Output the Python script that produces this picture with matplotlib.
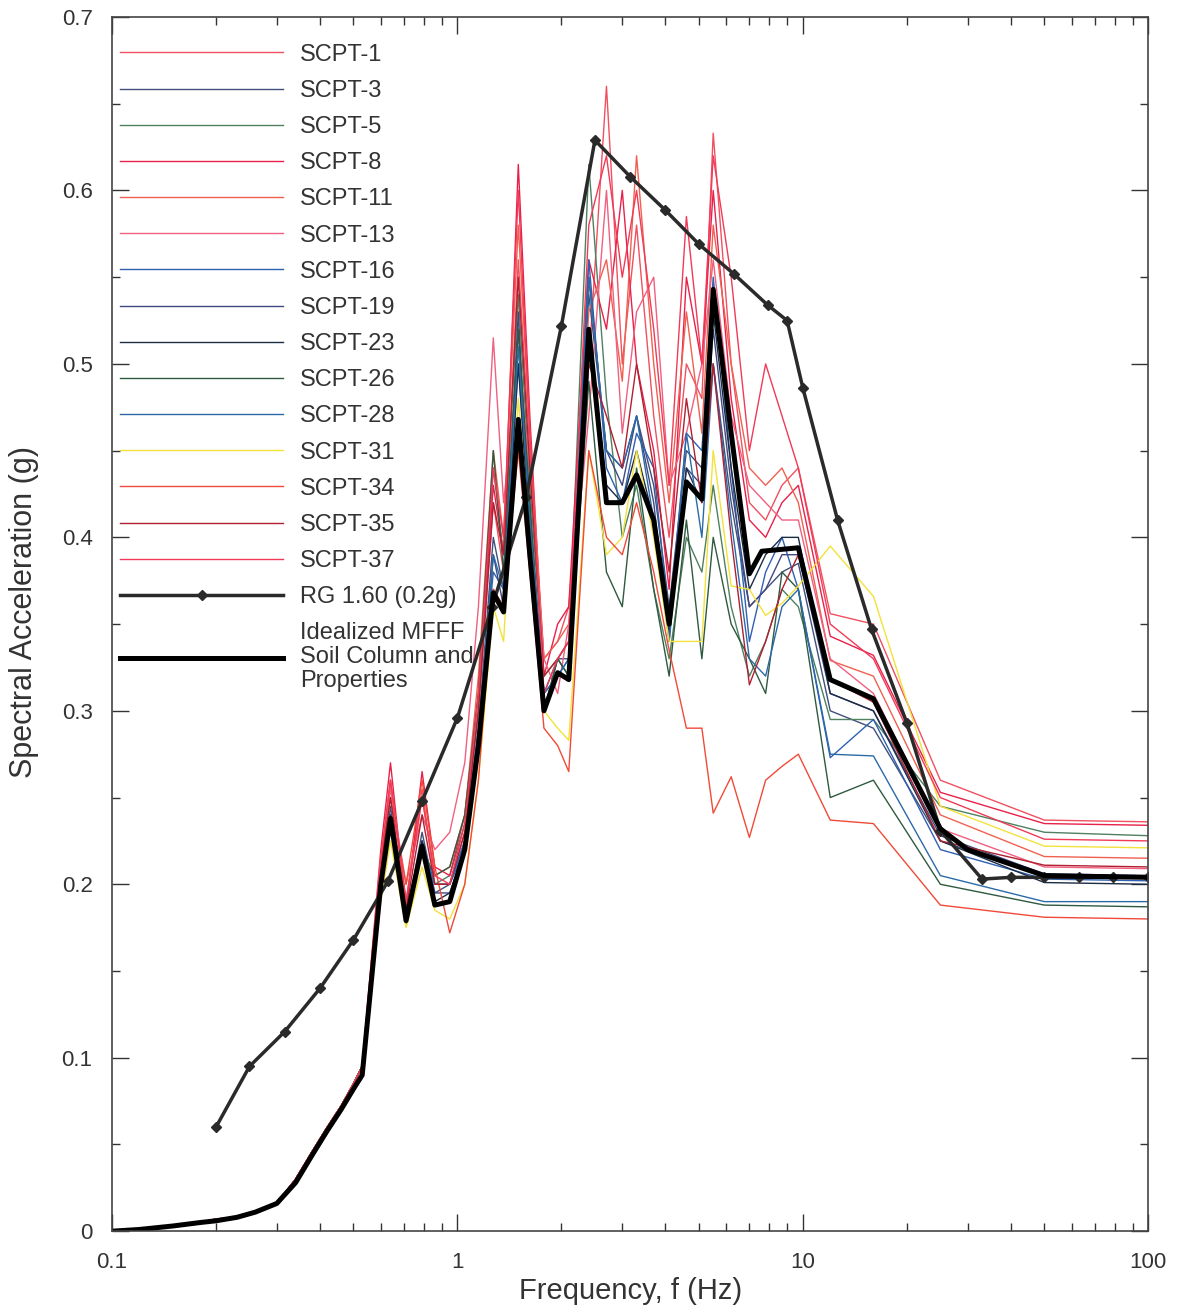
import matplotlib.pyplot as plt
from matplotlib.ticker import FixedLocator, NullFormatter

# ── Datos ─────────────────────────────────────────────────────────
# tramo de baja frecuencia, común a todos los sondeos SCPT
F_LOW = [0.1, 0.12, 0.15, 0.18, 0.2, 0.23, 0.26, 0.3, 0.34, 0.38, 0.42, 0.46, 0.5, 0.53]
SA_LOW = [0.0, 0.001, 0.003, 0.005, 0.007, 0.008, 0.011, 0.016, 0.03, 0.046, 0.06, 0.072, 0.085, 0.095]

# tramo de alta frecuencia (Hz)
F_HI = [0.6, 0.64, 0.71, 0.79, 0.86, 0.95, 1.05, 1.15, 1.27, 1.36, 1.5, 1.62, 1.78,
        1.95, 2.1, 2.4, 2.7, 3.0, 3.3, 3.7, 4.1, 4.6, 5.1, 5.5, 6.2, 7.0, 7.8, 8.7,
        9.7, 12.0, 16.0, 25.0, 50.0, 100.0]

SCPT_1 = [0.21, 0.26, 0.19, 0.255, 0.2, 0.2, 0.23, 0.3, 0.42, 0.38, 0.56, 0.45, 0.33,
          0.34, 0.36, 0.5, 0.66, 0.5, 0.58, 0.47, 0.4, 0.5, 0.48, 0.633, 0.5, 0.42, 0.41,
          0.43, 0.44, 0.356, 0.35, 0.26, 0.237, 0.236]
SCPT_3 = [0.2, 0.245, 0.18, 0.23, 0.195, 0.2, 0.225, 0.29, 0.4, 0.37, 0.52, 0.42, 0.31,
          0.33, 0.33, 0.54, 0.45, 0.44, 0.47, 0.43, 0.36, 0.45, 0.44, 0.5, 0.42, 0.36, 0.37,
          0.38, 0.385, 0.3, 0.29, 0.225, 0.205, 0.204]
SCPT_5 = [0.2, 0.235, 0.18, 0.22, 0.2, 0.205, 0.235, 0.3, 0.44, 0.39, 0.54, 0.43, 0.32,
          0.33, 0.34, 0.615, 0.48, 0.4, 0.43, 0.37, 0.33, 0.4, 0.38, 0.43, 0.36, 0.32, 0.34,
          0.37, 0.36, 0.295, 0.295, 0.245, 0.23, 0.228]
SCPT_8 = [0.22, 0.27, 0.185, 0.265, 0.21, 0.205, 0.24, 0.31, 0.43, 0.39, 0.615, 0.47, 0.32,
          0.35, 0.36, 0.56, 0.52, 0.6, 0.5, 0.45, 0.37, 0.55, 0.5, 0.6, 0.48, 0.41, 0.4,
          0.42, 0.43, 0.343, 0.332, 0.253, 0.235, 0.234]
SCPT_11 = [0.215, 0.26, 0.19, 0.25, 0.205, 0.21, 0.24, 0.32, 0.45, 0.4, 0.58, 0.46, 0.33,
           0.34, 0.35, 0.53, 0.56, 0.49, 0.62, 0.5, 0.42, 0.53, 0.46, 0.58, 0.5, 0.44, 0.43,
           0.44, 0.42, 0.329, 0.32, 0.24, 0.216, 0.215]
SCPT_13 = [0.21, 0.255, 0.2, 0.24, 0.22, 0.23, 0.27, 0.36, 0.515, 0.42, 0.5, 0.44, 0.33,
           0.31, 0.35, 0.47, 0.6, 0.46, 0.53, 0.55, 0.43, 0.46, 0.5, 0.56, 0.47, 0.43, 0.42,
           0.41, 0.41, 0.33, 0.31, 0.232, 0.21, 0.209]
SCPT_16 = [0.2, 0.24, 0.18, 0.225, 0.2, 0.2, 0.225, 0.29, 0.38, 0.37, 0.5, 0.41, 0.31,
           0.32, 0.33, 0.56, 0.44, 0.42, 0.46, 0.44, 0.35, 0.46, 0.45, 0.55, 0.44, 0.34, 0.38,
           0.4, 0.37, 0.273, 0.295, 0.22, 0.203, 0.202]
SCPT_19 = [0.2, 0.24, 0.18, 0.225, 0.195, 0.195, 0.22, 0.28, 0.39, 0.36, 0.53, 0.4, 0.3,
           0.33, 0.32, 0.55, 0.45, 0.43, 0.47, 0.42, 0.34, 0.44, 0.43, 0.52, 0.43, 0.36, 0.37,
           0.39, 0.39, 0.31, 0.3, 0.228, 0.206, 0.205]
SCPT_23 = [0.2, 0.24, 0.177, 0.225, 0.19, 0.195, 0.22, 0.28, 0.37, 0.36, 0.5, 0.4, 0.3,
           0.32, 0.32, 0.52, 0.43, 0.42, 0.45, 0.41, 0.345, 0.44, 0.42, 0.53, 0.44, 0.37, 0.39,
           0.4, 0.4, 0.31, 0.3, 0.225, 0.201, 0.2]
SCPT_26 = [0.2, 0.235, 0.185, 0.22, 0.205, 0.21, 0.24, 0.31, 0.45, 0.38, 0.52, 0.42, 0.3,
           0.33, 0.32, 0.49, 0.38, 0.36, 0.44, 0.37, 0.32, 0.41, 0.33, 0.4, 0.35, 0.33, 0.31,
           0.38, 0.37, 0.25, 0.26, 0.2, 0.188, 0.187]
SCPT_28 = [0.2, 0.235, 0.18, 0.22, 0.2, 0.2, 0.22, 0.28, 0.39, 0.37, 0.51, 0.41, 0.31,
           0.32, 0.33, 0.55, 0.45, 0.44, 0.47, 0.41, 0.34, 0.46, 0.4, 0.5, 0.41, 0.33, 0.32,
           0.36, 0.37, 0.275, 0.274, 0.205, 0.19, 0.19]
SCPT_31 = [0.19, 0.225, 0.175, 0.21, 0.185, 0.18, 0.2, 0.26, 0.36, 0.34, 0.48, 0.4, 0.3,
           0.29, 0.283, 0.45, 0.39, 0.4, 0.45, 0.4, 0.34, 0.34, 0.34, 0.45, 0.372, 0.37, 0.355,
           0.362, 0.372, 0.395, 0.366, 0.245, 0.222, 0.221]
SCPT_34 = [0.21, 0.25, 0.2, 0.26, 0.21, 0.172, 0.2, 0.26, 0.37, 0.36, 0.45, 0.38, 0.29,
           0.28, 0.265, 0.45, 0.4, 0.39, 0.42, 0.38, 0.335, 0.29, 0.29, 0.241, 0.262, 0.227,
           0.26, 0.268, 0.275, 0.237, 0.235, 0.188, 0.181, 0.18]
SCPT_35 = [0.21, 0.25, 0.185, 0.24, 0.2, 0.2, 0.23, 0.3, 0.42, 0.39, 0.55, 0.44, 0.32,
           0.33, 0.34, 0.5, 0.47, 0.44, 0.5, 0.44, 0.38, 0.48, 0.42, 0.5, 0.4, 0.315, 0.34,
           0.37, 0.39, 0.318, 0.305, 0.225, 0.211, 0.21]
SCPT_37 = [0.215, 0.26, 0.19, 0.25, 0.205, 0.2, 0.235, 0.31, 0.44, 0.4, 0.6, 0.46, 0.31,
           0.33, 0.34, 0.58, 0.62, 0.55, 0.6, 0.52, 0.43, 0.585, 0.5, 0.62, 0.55, 0.45, 0.5,
           0.47, 0.44, 0.35, 0.33, 0.25, 0.226, 0.225]

SCPT_LABELS = ["SCPT-1", "SCPT-3", "SCPT-5", "SCPT-8", "SCPT-11", "SCPT-13", "SCPT-16",
               "SCPT-19", "SCPT-23", "SCPT-26", "SCPT-28", "SCPT-31", "SCPT-34",
               "SCPT-35", "SCPT-37"]
SCPT_DATA = [SCPT_1, SCPT_3, SCPT_5, SCPT_8, SCPT_11, SCPT_13, SCPT_16, SCPT_19,
             SCPT_23, SCPT_26, SCPT_28, SCPT_31, SCPT_34, SCPT_35, SCPT_37]
SCPT_COLORS = ["#f05060", "#40507a", "#4f8060", "#e8204a", "#f06050", "#f06080",
               "#3060b0", "#404880", "#1c2c44", "#2f5a40", "#2a6aa8", "#f2e23a",
               "#f04a38", "#b02030", "#f03a58"]

# espectro de diseño RG 1.60 (0.2g)
F_RG = [0.2, 0.25, 0.316, 0.4, 0.5, 0.63, 0.79, 1.0, 1.26, 1.58, 2.0, 2.5, 3.16, 3.98,
        5.0, 6.3, 7.9, 9.0, 10.0, 12.6, 15.8, 20.0, 25.0, 33.0, 40.0, 50.0, 63.0, 79.0, 100.0]
SA_RG = [0.06, 0.095, 0.115, 0.14, 0.168, 0.202, 0.248, 0.296, 0.36, 0.423, 0.522, 0.629,
         0.608, 0.589, 0.569, 0.552, 0.534, 0.525, 0.486, 0.41, 0.347, 0.293, 0.231, 0.203,
         0.204, 0.204, 0.204, 0.204, 0.204]

# columna de suelo idealizada MFFF
F_IDEAL = [0.1, 0.12, 0.15, 0.18, 0.2, 0.23, 0.26, 0.3, 0.34, 0.38, 0.42, 0.46, 0.5, 0.53,
           0.6, 0.64, 0.71, 0.79, 0.86, 0.95, 1.05, 1.15, 1.27, 1.36, 1.5, 1.62, 1.78, 1.95,
           2.1, 2.4, 2.7, 3.0, 3.3, 3.7, 4.1, 4.6, 5.1, 5.5, 6.2, 7.0, 7.6, 9.7, 12.0, 16.0,
           25.0, 30.0, 50.0, 100.0]
SA_IDEAL = [0.0, 0.001, 0.003, 0.005, 0.006, 0.008, 0.011, 0.016, 0.028, 0.044, 0.058, 0.07,
            0.082, 0.09, 0.2, 0.238, 0.179, 0.222, 0.188, 0.19, 0.22, 0.28, 0.368, 0.357,
            0.468, 0.39, 0.3, 0.322, 0.318, 0.52, 0.42, 0.42, 0.436, 0.41, 0.35, 0.432, 0.422,
            0.543, 0.46, 0.379, 0.392, 0.394, 0.318, 0.307, 0.232, 0.22, 0.205, 0.204]

Y_TICKS = [0.0, 0.1, 0.2, 0.3, 0.4, 0.5, 0.6, 0.7]
Y_TICK_LABELS = ["0", "0.1", "0.2", "0.3", "0.4", "0.5", "0.6", "0.7"]
Y_MINOR = [0.05, 0.15, 0.25, 0.35, 0.45, 0.55, 0.65]
X_TICKS = [0.1, 1, 10, 100]
X_TICK_LABELS = ["0.1", "1", "10", "100"]


def main():
    plt.rcParams["font.family"] = ["Liberation Sans", "DejaVu Sans"]
    GRIS = "#333333"

    fig = plt.figure(figsize=(11.79, 13.07), dpi=100)
    ax = fig.add_axes([0.095, 0.058, 0.879, 0.929])

    for sa, label, color in zip(SCPT_DATA, SCPT_LABELS, SCPT_COLORS):
        ax.plot(F_LOW + F_HI, SA_LOW + sa, color=color, linewidth=1.0, label=label)

    ax.plot(F_RG, SA_RG, color="#2a2a2a", linewidth=2.5, marker="D", markersize=5.5,
            label="RG 1.60 (0.2g)")
    ax.plot(F_IDEAL, SA_IDEAL, color="black", linewidth=3.6,
            label="Idealized MFFF\nSoil Column and\nProperties")

    ax.set_xscale("log")
    ax.set_xlim(0.1, 100)
    ax.set_ylim(0, 0.7)

    ax.xaxis.set_major_locator(FixedLocator(X_TICKS))
    ax.set_xticklabels(X_TICK_LABELS)
    ax.xaxis.set_minor_formatter(NullFormatter())
    ax.set_yticks(Y_TICKS)
    ax.set_yticklabels(Y_TICK_LABELS)
    ax.yaxis.set_minor_locator(FixedLocator(Y_MINOR))

    ax.tick_params(which="both", direction="in", top=True, right=True,
                   labelsize=16, colors=GRIS)
    ax.tick_params(axis="y", pad=14)
    ax.tick_params(axis="x", pad=15)
    ax.tick_params(which="major", length=12, width=1.0)
    ax.tick_params(which="minor", length=6, width=1.0)
    for sp in ax.spines.values():
        sp.set_color("#444444")
        sp.set_linewidth(1.2)

    ax.set_xlabel("Frequency, f (Hz)", fontsize=21, color=GRIS, labelpad=3)
    ax.set_ylabel("Spectral Acceleration (g)", fontsize=22, color=GRIS, labelpad=10)
    ax.yaxis.set_label_coords(-0.07, 0.51)

    leg = ax.legend(loc="upper left", bbox_to_anchor=(0.008, 0.978), frameon=False,
                    fontsize=17, handlelength=6.9, handletextpad=0.72,
                    labelspacing=0.6, numpoints=1, borderaxespad=0, borderpad=0)
    for txt in leg.get_texts():
        txt.set_color(GRIS)
        txt.set_linespacing(1.12)

    fig.savefig("out.png", dpi=100)


if __name__ == "__main__":
    main()
